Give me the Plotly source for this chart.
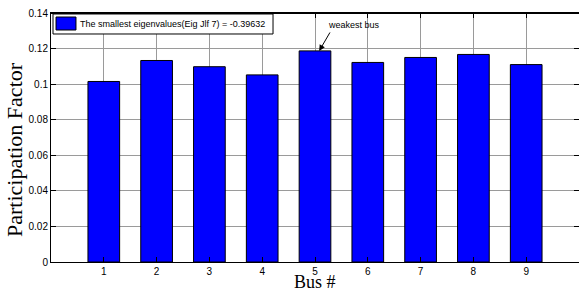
import plotly.graph_objects as go

buses = [1, 2, 3, 4, 5, 6, 7, 8, 9]
participation = [0.1015, 0.1133, 0.1098, 0.1052, 0.1187, 0.1122, 0.1150, 0.1167, 0.1110]
y_tick_vals = [0, 0.02, 0.04, 0.06, 0.08, 0.10, 0.12, 0.14]
y_tick_text = ["0", "0.02", "0.04", "0.06", "0.08", "0.1", "0.12", "0.14"]
legend_name = "The smallest eigenvalues(Eig Jlf 7) = -0.39632"
sans = "Liberation Sans, Arial, sans-serif"
serif = "Liberation Serif, Times New Roman, serif"

fig = go.Figure()
fig.add_trace(go.Bar(
    x=buses, y=participation, width=0.6, name=legend_name,
    marker=dict(color="#0000ff", line=dict(color="black", width=1)),
    showlegend=False,
))

fig.update_layout(
    width=579, height=291,
    margin=dict(l=51, r=0, t=13, b=29),
    plot_bgcolor="white", paper_bgcolor="white",
    showlegend=False,
    xaxis=dict(range=[0, 10], tickvals=buses, ticktext=[str(b) for b in buses],
               automargin=False,
               showgrid=True, gridcolor="#9a9a9a", gridwidth=1,
               showline=True, linecolor="black", linewidth=1, mirror="ticks",
               ticks="inside", ticklen=5, tickcolor="black",
               tickfont=dict(family=sans, size=10, color="black"),
               zeroline=False),
    yaxis=dict(range=[0, 0.14], tickvals=y_tick_vals, ticktext=y_tick_text,
               automargin=False,
               showgrid=True, gridcolor="#9a9a9a", gridwidth=1,
               showline=True, linecolor="black", linewidth=1, mirror="ticks",
               ticks="inside", ticklen=5, tickcolor="black",
               tickfont=dict(family=sans, size=10, color="black"),
               zeroline=False),
    font=dict(family=sans, color="black"),
)

fig.add_shape(type="line", xref="paper", yref="paper", x0=0, x1=1, y0=1, y1=1,
              line=dict(color="black", width=2))

# legend box (drawn manually to match the reference's compact legend)
fig.add_shape(type="rect", xref="paper", yref="paper", x0=0.0038, x1=0.4205, y0=0.9157, y1=0.996,
              line=dict(color="black", width=1), fillcolor="white", layer="above")
fig.add_shape(type="rect", xref="paper", yref="paper", x0=0.0095, x1=0.0473, y0=0.9317, y1=0.9839,
              line=dict(color="black", width=1), fillcolor="#0000ff", layer="above")
fig.add_annotation(x=0.051, y=0.9578, xref="paper", yref="paper", xanchor="left", yanchor="middle",
                   text=legend_name, showarrow=False, font=dict(family=sans, size=9, color="black"))

fig.add_annotation(x=-0.068, y=0.45, xref="paper", yref="paper", xanchor="center", yanchor="middle",
                   text="Participation Factor",
                   textangle=-90, showarrow=False, font=dict(family=serif, size=22, color="black"))
fig.add_annotation(x=0.5, y=-0.08, xref="paper", yref="paper", yanchor="middle",
                   text="Bus #", showarrow=False, font=dict(family=serif, size=18, color="black"))

fig.add_annotation(x=5.08, y=participation[4], xref="x", yref="y",
                   ax=5.30, ay=0.1299, axref="x", ayref="y",
                   text="", showarrow=True, arrowhead=2, arrowsize=1.2, arrowwidth=1, arrowcolor="black")
fig.add_annotation(x=5.74, y=0.1335, xref="x", yref="y", text="weakest bus",
                   showarrow=False, font=dict(family=sans, size=9, color="black"))

fig.write_html("out.html", config={"displayModeBar": False},
               post_script="document.body.style.margin='0';")
